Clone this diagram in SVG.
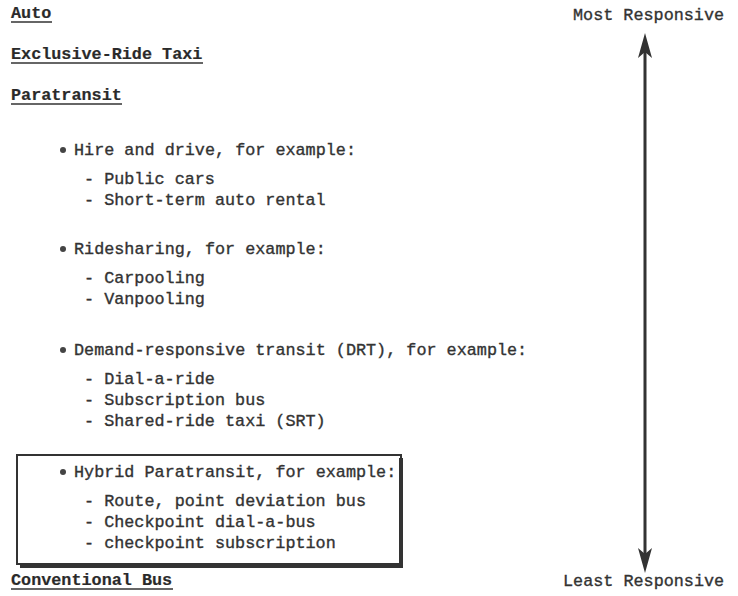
<svg xmlns="http://www.w3.org/2000/svg" width="738" height="596" viewBox="0 0 738 596">
<style>
text{font-family:"Liberation Mono","DejaVu Sans Mono",monospace;font-size:16.8px;fill:#333;stroke:#333;stroke-width:0.35}
.h{font-weight:bold;fill:#2a2a2a;stroke-width:0.2}
.ul{stroke:#333;stroke-width:1.6}
.bul{fill:#444}
</style>
<rect width="738" height="596" fill="#fff"/>
<g id="auto"><text class="h" x="11" y="18">Auto</text><line class="ul" x1="11" y1="22" x2="52" y2="22"/></g>
<g id="taxi"><text class="h" x="11" y="59">Exclusive-Ride Taxi</text><line class="ul" x1="11" y1="63" x2="203" y2="63"/></g>
<g id="paratransit"><text class="h" x="11" y="100">Paratransit</text><line class="ul" x1="11" y1="104" x2="122" y2="104"/></g>
<g id="hire">
<circle class="bul" cx="63" cy="150" r="3"/>
<text x="74" y="155">Hire and drive, for example:</text>
<text x="84" y="184">- Public cars</text>
<text x="84" y="205">- Short-term auto rental</text>
</g>
<g id="rideshare">
<circle class="bul" cx="63" cy="249" r="3"/>
<text x="74" y="254">Ridesharing, for example:</text>
<text x="84" y="283">- Carpooling</text>
<text x="84" y="304">- Vanpooling</text>
</g>
<g id="drt">
<circle class="bul" cx="63" cy="350" r="3"/>
<text x="74" y="355">Demand-responsive transit (DRT), for example:</text>
<text x="84" y="384">- Dial-a-ride</text>
<text x="84" y="405">- Subscription bus</text>
<text x="84" y="426">- Shared-ride taxi (SRT)</text>
</g>
<g id="hybrid">
<rect x="17" y="455" width="384" height="109" fill="none" stroke="#333" stroke-width="2"/>
<path d="M401 458 V566 H20" fill="none" stroke="#333" stroke-width="4"/>
<circle class="bul" cx="63" cy="472" r="3"/>
<text x="74" y="477">Hybrid Paratransit, for example:</text>
<text x="84" y="506">- Route, point deviation bus</text>
<text x="84" y="527">- Checkpoint dial-a-bus</text>
<text x="84" y="548">- checkpoint subscription</text>
</g>
<g id="conventional"><text class="h" x="11" y="585">Conventional Bus</text><line class="ul" x1="11" y1="589" x2="173" y2="589"/></g>
<g id="most"><text x="573" y="20">Most Responsive</text></g>
<g id="least"><text x="563" y="586">Least Responsive</text></g>
<g id="connectors">
<line x1="645" y1="50" x2="645" y2="556" stroke="#333" stroke-width="3"/>
<path d="M645 33 L652 58 L645 52 L638 58 Z" fill="#333"/>
<path d="M645 573 L652 548 L645 554 L638 548 Z" fill="#333"/>
</g>
</svg>
